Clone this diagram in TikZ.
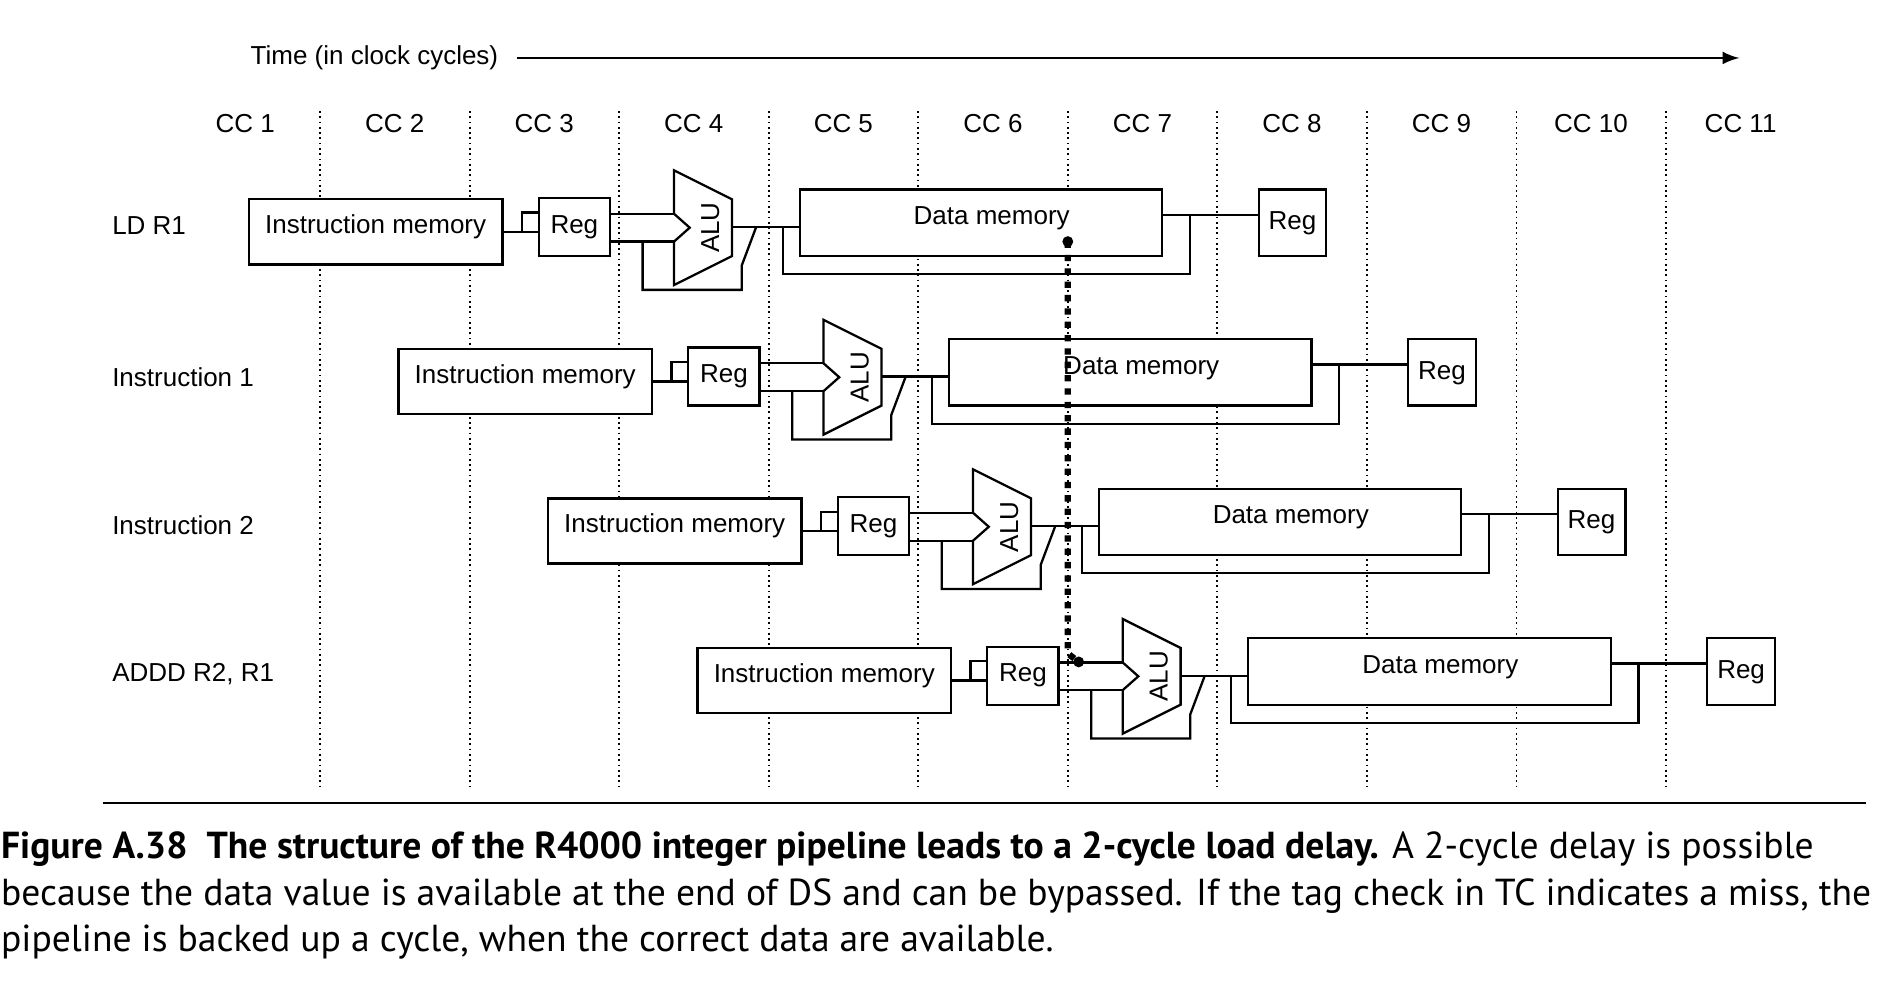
\documentclass[tikz,border=0pt]{standalone}
\usepackage{fontspec}
\setmainfont{Liberation Sans}
\newfontfamily\capfont{PT Sans}
\usetikzlibrary{positioning}
\tikzset{
  unit/.style={draw, line width=0.7pt},
  lbl/.style={font=\fontsize{7.4pt}{9pt}\selectfont, inner sep=0pt},
  grid/.style={densely dotted, line width=0.5pt},
}
\begin{document}
\begin{tikzpicture}[x=0.01208cm, y=-0.01208cm, line width=0.65pt]
	\useasboundingbox (0,0) rectangle (1568,815);
	% 时间轴
	\node [lbl] (time) at (310,48) {Time (in clock cycles)};
	\draw [-latex] (428,48) -- (1440,48);
	\foreach \c in {1,...,11}
		\node [lbl] (cc\c) at ({203+123.8*(\c-1)},102) {CC \c};
	\foreach \c in {1,...,10}
		\draw [grid] ({265+123.8*(\c-1)},92) -- ({265+123.8*(\c-1)},652);
	% 指令名
	\node [lbl, anchor=west] (ld) at (92,187) {LD R1};
	\node [lbl, anchor=west] (ins1) at (92,312) {Instruction 1};
	\node [lbl, anchor=west] (ins2) at (92,435) {Instruction 2};
	\node [lbl, anchor=west] (addd) at (92,558) {ADDD R2, R1};
	% 流水线各级
	\foreach \i in {0,...,3} {
	\begin{scope}[shift={({123.8*\i},{123.8*\i})}]
		\draw [fill=white] (206,165) rectangle (416,219);
		\node [lbl] (im\i) at (311,188) {Instruction memory};
		\draw (416,192) -- (446,192);
		\draw (432,192) -- (432,176) -- (446,176);
		\draw [fill=white] (446,164) rectangle (505,212);
		\node [lbl] (reg\i) at (475.5,188) {Reg};
		\draw (505,177) -- (558,177);
		\draw (505,200) -- (558,200);
		\draw (532,200) -- (532,240) -- (614,240) -- (614,220) -- (626,188);
		\draw [fill=white] (558,141) -- (606,165) -- (606,212) -- (558,236) -- (558,200) -- (571,188.5) -- (558,177) -- cycle;
		\node [lbl, rotate=90] (alu\i) at (588,188.5) {ALU};
		\draw (606,188) -- (662,188);
		\draw (648,188) -- (648,227) -- (985,227) -- (985,178);
		\draw [fill=white] (662,157) rectangle (962,212);
		\node [lbl] (dm\i) at (821,181) {Data memory};
		\draw (962,178) -- (1042,178);
		\draw [fill=white] (1042,157) rectangle (1098,212);
		\node [lbl] (wb\i) at (1070,185) {Reg};
	\end{scope}
	}
	% 旁路
	\coordinate (byS) at (884,200);
	\coordinate (byE) at (893,548);
	\fill (byS) circle (4.5);
	\fill (byE) circle (4.5);
	\draw [dotted, line width=1.8pt] (byS) -- (884,541) -- (byE);
	% 图注
	\draw [line width=0.6pt] (85,665) -- (1545,665);
	\begin{scope}[every node/.style={anchor=base west, inner sep=0pt, font=\capfont\fontsize{10.7pt}{12pt}\selectfont}]
		\node (cap1) at (0,711) {\textbf{Figure A.38\ \ The structure of the R4000 integer pipeline leads to a 2-cycle load delay.} A 2-cycle delay is possible};
		\node (cap2) at (0,750) {because the data value is available at the end of DS and can be bypassed. If the tag check in TC indicates a miss, the};
		\node (cap3) at (0,788) {pipeline is backed up a cycle, when the correct data are available.};
	\end{scope}
\end{tikzpicture}
\end{document}
